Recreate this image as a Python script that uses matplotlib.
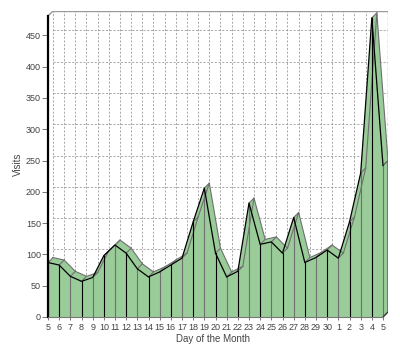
import matplotlib
matplotlib.use("Agg")
import matplotlib.pyplot as plt
from matplotlib.patches import Polygon
import numpy as np

# ---------------------------------------------------------------- data
days = ["5", "6", "7", "8", "9", "10", "11", "12", "13", "14", "15", "16",
        "17", "18", "19", "20", "21", "22", "23", "24", "25", "26", "27",
        "28", "29", "30", "1", "2", "3", "4", "5"]
visits = [87, 83, 65, 57, 63, 98, 115, 102, 77, 64, 72, 83,
          94, 152, 206, 102, 64, 73, 182, 116, 120, 102, 159,
          87, 95, 107, 94, 152, 230, 478, 242]
y_ticks = [0, 50, 100, 150, 200, 250, 300, 350, 400, 450]
y_max = 481

# ---------------------------------------------------------------- style
GREEN = "#99cc99"
GRID = "#9a9a9a"
TEXT = "#444444"
plt.rcParams["font.family"] = ["Liberation Sans", "DejaVu Sans"]

fig = plt.figure(figsize=(4.0, 3.56), dpi=100)
ax = fig.add_axes([48 / 400, 39 / 356, 340 / 400, 306 / 356])

x = np.arange(len(visits))
v = np.array(visits, dtype=float)
n = len(x) - 1
dx = 5 / 11.167          # depth offset, category units
dy = 5 / 0.6267          # depth offset, value units
ax.set_xlim(0, n + dx)
ax.set_ylim(0, y_max + dy)

# back wall grid
for t in y_ticks[1:]:
    ax.plot([dx, n + dx], [t + dy, t + dy], color=GRID, lw=0.6,
            dashes=(2.5, 2), zorder=1)
for i in x:
    ax.plot([i + dx, i + dx], [dy, y_max + dy], color=GRID, lw=0.6,
            dashes=(2.5, 2), zorder=1)
ax.plot([dx, n + dx], [y_max + dy, y_max + dy], color=GRID, lw=1, zorder=1)
ax.plot([n + dx, n + dx], [y_max + dy, dy], color=GRID, lw=1,
        dashes=(2.5, 1.5), zorder=1)
ax.plot([0, dx], [y_max, y_max + dy], color=GRID, lw=1, zorder=1)

# top ribbons of the 3D area
for i in range(n):
    quad = [(x[i], v[i]), (x[i + 1], v[i + 1]),
            (x[i + 1] + dx, v[i + 1] + dy), (x[i] + dx, v[i] + dy)]
    ax.add_patch(Polygon(quad, closed=True, facecolor=GREEN,
                         edgecolor="none", zorder=2))
# right side face
side = [(x[-1], 0), (x[-1], v[-1]), (x[-1] + dx, v[-1] + dy), (x[-1] + dx, dy)]
ax.add_patch(Polygon(side, closed=True, facecolor=GREEN, edgecolor="#333333",
                     lw=0.7, zorder=2))

# front face
ax.fill_between(x, 0, v, color=GREEN, lw=0, zorder=3)

# edges
ax.plot(x + dx, v + dy, color="#6f6f6f", lw=0.8, zorder=4)
for i in x:
    ax.plot([i, i + dx], [v[i], v[i] + dy], color="#6f6f6f", lw=0.8, zorder=4)
    ax.plot([i, i], [0, v[i]], color="black" if i % 2 else "#707070",
            lw=0.8, zorder=4)
ax.plot(x, v, color="black", lw=0.9, zorder=5)
ax.plot([n, n + dx], [0, dy], color="#333333", lw=0.8, zorder=5)

# axes
for s in ("top", "right"):
    ax.spines[s].set_visible(False)
ax.spines["left"].set_bounds(0, y_max)
ax.spines["left"].set_linewidth(1.6)
ax.spines["left"].set_zorder(6)
ax.spines["bottom"].set_bounds(0, n)
ax.spines["bottom"].set_color("#777777")
ax.spines["bottom"].set_zorder(6)

ax.set_yticks(y_ticks)
ax.set_xticks(x)
ax.set_xticklabels(days)
ax.tick_params(axis="y", length=4, width=0.7, color="#777777", pad=1,
               labelsize=6.5, labelcolor=TEXT)
ax.tick_params(axis="x", length=2, width=0.7, color="#777777", pad=2,
               labelsize=6.5, labelcolor=TEXT)

ax.set_ylabel("Visits", fontsize=7, color=TEXT, va="center")
ax.yaxis.set_label_coords(-0.088, 0.5)
ax.set_xlabel("Day of the Month", fontsize=7, color=TEXT, va="center")
ax.xaxis.set_label_coords(0.485, -0.072)

fig.savefig("out.png", dpi=100)
